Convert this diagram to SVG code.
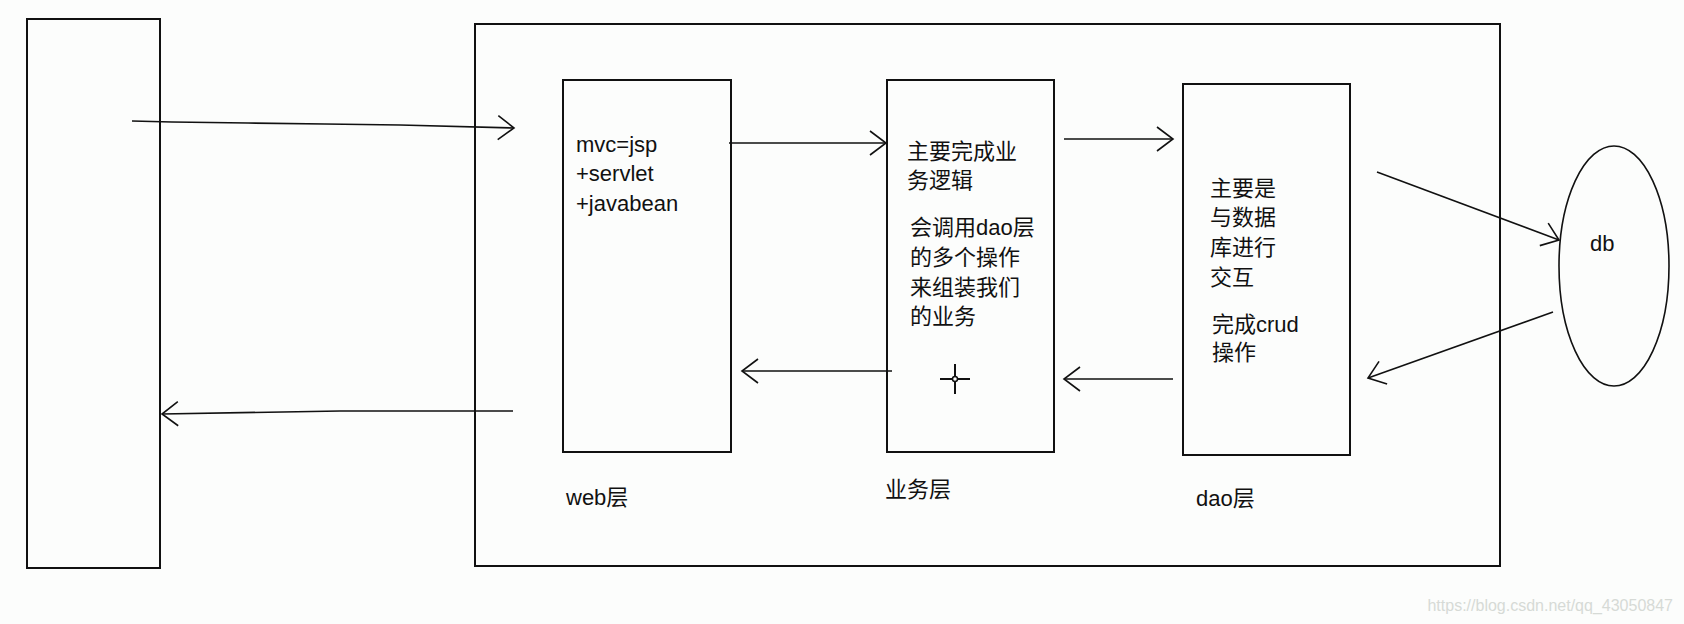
<svg xmlns="http://www.w3.org/2000/svg" width="1684" height="624" viewBox="0 0 1684 624">
<defs>
<style>
.box{fill:none;stroke:#111;stroke-width:2}
.ln{fill:none;stroke:#111;stroke-width:1.6}
.t{font-family:"Liberation Sans","Noto Sans CJK SC",sans-serif;font-size:22px;fill:#111}
.wm{font-family:"Liberation Sans",sans-serif;font-size:16px;fill:#d6dad6}
</style>
<marker id="ah" viewBox="-20 -20 40 40" markerUnits="userSpaceOnUse" markerWidth="40" markerHeight="40" refX="0" refY="0" orient="auto">
<path d="M-16,-12 L0,0 L-16,12" fill="none" stroke="#111" stroke-width="1.6"/>
</marker>
</defs>
<rect width="1684" height="624" fill="#fcfdfc"/>

<g id="client"><rect class="box" x="27" y="19" width="133" height="549"/></g>
<g id="server"><rect class="box" x="475" y="24" width="1025" height="542"/></g>

<g id="web">
<rect class="box" x="563" y="80" width="168" height="372"/>
<text class="t" x="576" y="152">mvc=jsp</text>
<text class="t" x="576" y="181">+servlet</text>
<text class="t" x="576" y="211">+javabean</text>
<text class="t" x="566" y="505">web层</text>
</g>

<g id="service">
<rect class="box" x="887" y="80" width="167" height="372"/>
<text class="t" x="907" y="159">主要完成业</text>
<text class="t" x="907" y="188">务逻辑</text>
<text class="t" x="910" y="235">会调用dao层</text>
<text class="t" x="910" y="265">的多个操作</text>
<text class="t" x="910" y="295">来组装我们</text>
<text class="t" x="910" y="324">的业务</text>
<text class="t" x="885" y="497">业务层</text>
</g>

<g id="dao">
<rect class="box" x="1183" y="84" width="167" height="371"/>
<text class="t" x="1210" y="196">主要是</text>
<text class="t" x="1210" y="225">与数据</text>
<text class="t" x="1210" y="255">库进行</text>
<text class="t" x="1210" y="285">交互</text>
<text class="t" x="1212" y="332">完成crud</text>
<text class="t" x="1212" y="360">操作</text>
<text class="t" x="1196" y="506">dao层</text>
</g>

<g id="db">
<ellipse class="ln" cx="1614" cy="266" rx="55" ry="120"/>
<text class="t" x="1590" y="251">db</text>
</g>

<g id="connectors">
<path class="ln" d="M132,121 L172,122 L248,123 L325,124 L400,125 L514,128" marker-end="url(#ah)"/>
<path class="ln" d="M513,411 L340,411 L162,414" marker-end="url(#ah)"/>
<path class="ln" d="M729,143 L886,143" marker-end="url(#ah)"/>
<path class="ln" d="M892,371 L742,371" marker-end="url(#ah)"/>
<path class="ln" d="M1064,139 L1173,139" marker-end="url(#ah)"/>
<path class="ln" d="M1173,379 L1064,379" marker-end="url(#ah)"/>
<path class="ln" d="M1377,172 L1559,240" marker-end="url(#ah)"/>
<path class="ln" d="M1553,312 L1368,378" marker-end="url(#ah)"/>
</g>

<g id="cursor">
<path d="M940,379 H970 M955,364 V394" stroke="#111" stroke-width="2"/>
<circle cx="955" cy="379" r="2.5" fill="#fcfdfc" stroke="#111" stroke-width="1.5"/>
</g>

<text class="wm" x="1673" y="611" text-anchor="end">https://blog.csdn.net/qq_43050847</text>
</svg>
